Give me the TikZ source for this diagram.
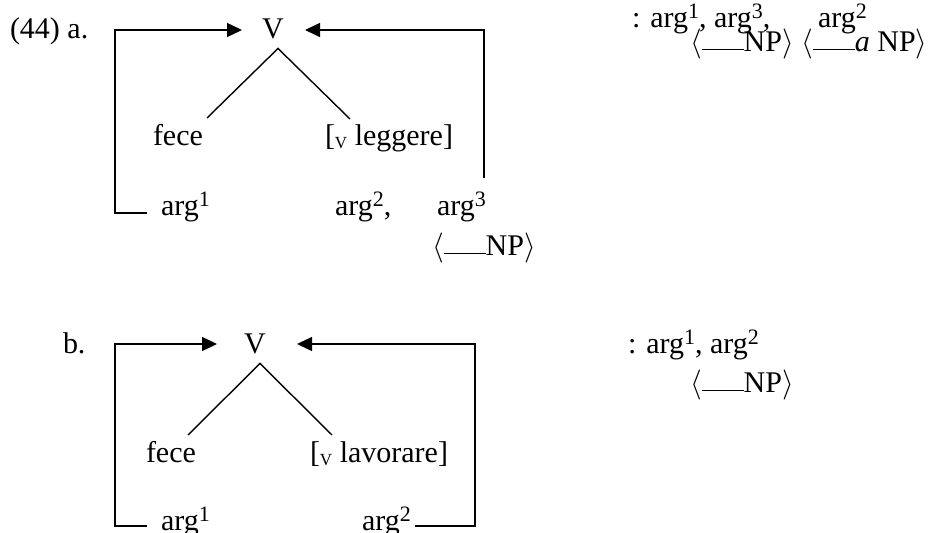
\RequirePackage{fix-cm}
\documentclass[tikz,border=0pt]{standalone}
\usepackage{fontspec}
\setmainfont{Liberation Serif}
\usetikzlibrary{arrows.meta}
\newcommand{\sps}[1]{\raisebox{9pt}{\fontsize{22}{22}\selectfont #1}}
\newcommand{\sbv}{\raisebox{-3pt}{\fontsize{17}{17}\selectfont V}}
\newcommand{\blank}{\rule[1pt]{42pt}{1.4pt}}
\newcommand{\npslot}{$\langle$\blank NP$\rangle$}
\begin{document}
\begin{tikzpicture}[x=1pt,y=-1pt,
  every node/.style={inner sep=0pt,outer sep=0pt,font=\fontsize{30}{34}\selectfont},
  treeline/.style={line width=1.4pt},
  arr/.style={line width=1.4pt,-{Triangle[length=15pt,width=14pt]}}]
\useasboundingbox (0,0) rectangle (930,533);
\clip (0,0) rectangle (930,533);

% ---------- (44) a.
\node[anchor=base west] (laba) at (10,38) {(44) a.};
\node[anchor=base] (Va) at (273,38) {V};
\node[anchor=base west] (fecea) at (153,145) {fece};
\node[anchor=base west] (legg) at (325,145) {[\sbv\ leggere]};
\node[anchor=base west] (arg1a) at (161,215) {arg\sps{1}};
\node[anchor=base west] (arg2a) at (335,215) {arg\sps{2},};
\node[anchor=base west] (arg3a) at (437,215) {arg\sps{3}};
\node[anchor=base west] (npa) at (432,255) {\npslot};
\node[anchor=base west] (ra1) at (632,27) {: arg\sps{1}, arg\sps{3},};
\node[anchor=base west] (ra2) at (818,27) {arg\sps{2}};
\node[anchor=base west] (ra3) at (690,51) {\npslot\ $\langle$\blank\textit{a} NP$\rangle$};

\coordinate (apa) at ([xshift=5pt,yshift=-10pt]Va.south);
\coordinate (lla) at (207,118);
\coordinate (rla) at (350,119);
\draw[treeline] (lla) -- (apa) -- (rla);

\coordinate (la0) at (147,213);
\coordinate (lab) at (115,213);
\coordinate (lat) at (115,30);
\coordinate (latip) at (242,30);
\draw[arr] (la0) -- (lab) -- (lat) -- (latip);

\coordinate (ra0) at (484,178);
\coordinate (rat) at (484,30);
\coordinate (ratip) at (305,30);
\draw[arr] (ra0) -- (rat) -- (ratip);

% ---------- b.
\node[anchor=base west] (labb) at (63,353) {b.};
\node[anchor=base] (Vb) at (255,353) {V};
\node[anchor=base west] (feceb) at (146,462) {fece};
\node[anchor=base west] (lavor) at (310,462) {[\sbv\ lavorare]};
\node[anchor=base west] (arg1b) at (161,530) {arg\sps{1}};
\node[anchor=base west] (arg2b) at (362,530) {arg\sps{2}};
\node[anchor=base west] (rb1) at (628,353) {: arg\sps{1}, arg\sps{2}};
\node[anchor=base west] (rb2) at (690,392) {\npslot};

\coordinate (apb) at ([xshift=5pt,yshift=-10pt]Vb.south);
\coordinate (llb) at (188,435);
\coordinate (rlb) at (332,435);
\draw[treeline] (llb) -- (apb) -- (rlb);

\coordinate (lb0) at (147,526);
\coordinate (lbb) at (115,526);
\coordinate (lbt) at (115,344);
\coordinate (lbtip) at (217,344);
\draw[arr] (lb0) -- (lbb) -- (lbt) -- (lbtip);

\coordinate (rb0) at (415,526);
\coordinate (rbb) at (475,526);
\coordinate (rbt) at (475,344);
\coordinate (rbtip) at (297,344);
\draw[arr] (rb0) -- (rbb) -- (rbt) -- (rbtip);
\end{tikzpicture}
\end{document}
